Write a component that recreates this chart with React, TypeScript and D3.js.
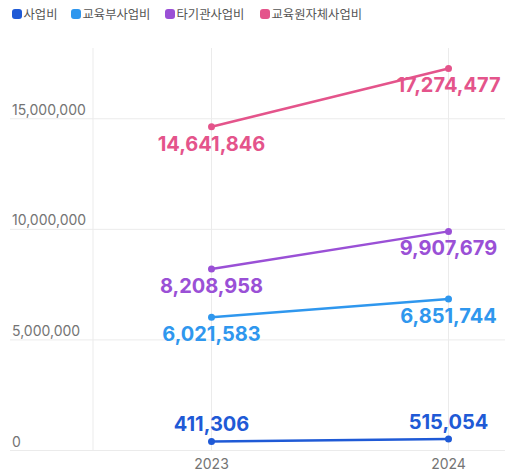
import React from "react";
import * as d3 from "d3";

const years = ["2023", "2024"];
const seriesNames = ["사업비", "교육부사업비", "타기관사업비", "교육원자체사업비"];
const seriesColors = ["#1f5ad6", "#2f97ee", "#9a50d6", "#e4548b"];
const values1 = [411306, 515054];
const values2 = [6021583, 6851744];
const values3 = [8208958, 9907679];
const values4 = [14641846, 17274477];
const yTicks = [0, 5000000, 10000000, 15000000];
const labelAbove = [true, false, false, false];

const W = 505;
const H = 471;

export default function App() {
  const allValues = [values1, values2, values3, values4];
  const x = d3.scalePoint<string>().domain(years).range([93, 567]).padding(0.5);
  const y = d3.scaleLinear().domain([0, 18200000]).range([450.5, 48]);
  const fmt = d3.format(",");
  const line = d3
    .line<number>()
    .x((_, i) => x(years[i]) as number)
    .y((d) => y(d));

  const legendX = [12, 71, 165, 260];

  return (
    <svg
      width={W}
      height={H}
      style={{ position: "absolute", left: 0, top: 0, background: "#fff" }}
    >
      {/* legend */}
      {seriesNames.map((n, i) => (
        <g key={n} transform={`translate(${legendX[i]},9)`}>
          <rect width={10} height={10} rx={3} fill={seriesColors[i]} />
          <text
            x={11.5}
            y={9.8}
            fontSize={12.3}
            fill="#555"
            fontFamily="'Noto Sans CJK KR', 'Noto Sans', sans-serif"
          >
            {n}
          </text>
        </g>
      ))}
      {/* grid */}
      {yTicks.map((t) => (
        <g key={t}>
          <line x1={10} x2={W} y1={y(t)} y2={y(t)} stroke="#ebebeb" strokeWidth={1} />
          <text
            x={12}
            y={y(t) - 4}
            fontSize={14}
            fill="#747474"
            fontFamily="Inter, sans-serif"
          >
            {fmt(t)}
          </text>
        </g>
      ))}
      <line x1={93} x2={93} y1={48} y2={y(0)} stroke="#ebebeb" strokeWidth={1} />
      {years.map((yr) => (
        <g key={yr}>
          <line
            x1={x(yr)}
            x2={x(yr)}
            y1={48}
            y2={y(0)}
            stroke="#ebebeb"
            strokeWidth={1}
          />
          <text
            x={x(yr)}
            y={469}
            textAnchor="middle"
            fontSize={14}
            fill="#747474"
            fontFamily="Inter, sans-serif"
          >
            {yr}
          </text>
        </g>
      ))}
      {/* lines */}
      {allValues.map((vals, si) => (
        <g key={si}>
          <path
            d={line(vals) || ""}
            fill="none"
            stroke={seriesColors[si]}
            strokeWidth={2.5}
          />
          {vals.map((v, i) => (
            <circle
              key={i}
              cx={x(years[i])}
              cy={y(v)}
              r={3.5}
              fill={seriesColors[si]}
            />
          ))}
          {vals.map((v, i) => (
            <text
              key={"t" + i}
              x={x(years[i])}
              y={labelAbove[si] ? y(v) - 10 : y(v) + 24}
              textAnchor="middle"
              fontSize={20}
              fontWeight={700}
              fill={seriesColors[si]}
              fontFamily="Inter, sans-serif"
            >
              {fmt(v)}
            </text>
          ))}
        </g>
      ))}
    </svg>
  );
}
